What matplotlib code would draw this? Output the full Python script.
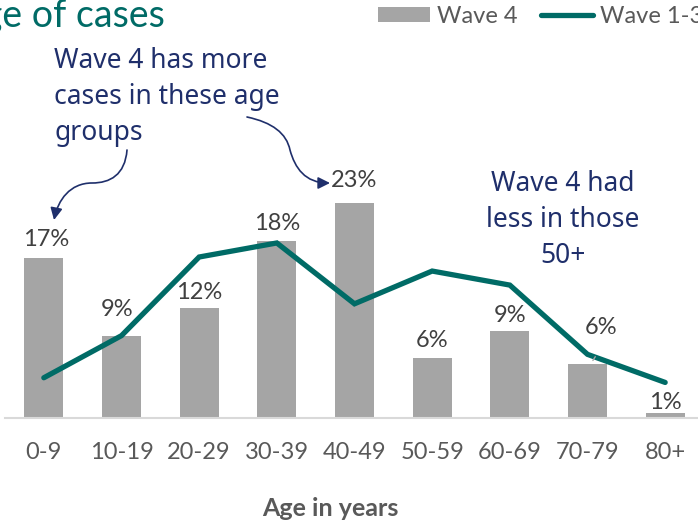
import matplotlib
matplotlib.use("Agg")
from matplotlib import pyplot as plt
from matplotlib.patches import FancyArrowPatch
from matplotlib.path import Path

ages = ["0-9", "10-19", "20-29", "30-39", "40-49", "50-59", "60-69", "70-79", "80+"]
wave4 = [17.1, 8.8, 11.8, 18.9, 23.0, 6.4, 9.3, 5.8, 0.5]
wave4_labels = ["17%", "9%", "12%", "18%", "23%", "6%", "9%", "6%", "1%"]
wave13 = [4.3, 8.8, 17.2, 18.7, 12.2, 15.7, 14.2, 6.8, 3.8]

TEAL = "#006B66"
GREY_BAR = "#A5A5A5"
TXT = "#595959"
NAVY = "#1F2F6B"
W, H = 698, 527

plt.rcParams["font.family"] = ["Lato", "DejaVu Sans"]


def fx(px):
    return px / W


def fy(py):
    return 1 - py / H


fig = plt.figure(figsize=(W / 100, H / 100), dpi=100)
# axes is wider than the picture, the right edge is cut like in the source
ax = fig.add_axes([fx(5), fy(418), 699 / W, 234 / H])

x = list(range(len(ages)))
bars = ax.bar(x, wave4, width=0.5, color=GREY_BAR, label="Wave 4", zorder=2)
line, = ax.plot(x, wave13, color=TEAL, lw=3.8, solid_capstyle="round",
                solid_joinstyle="miter", label="Wave 1-3", zorder=3)

ax.set_xlim(-0.5, 8.5)
ax.set_ylim(0, 25)
ax.set_yticks([])
ax.set_xticks(x)
ax.set_xticklabels(ages, fontsize=17, color=TXT)
ax.tick_params(axis="x", length=0, pad=17)
for s in ["top", "right", "left"]:
    ax.spines[s].set_visible(False)
ax.spines["bottom"].set_color("#D9D9D9")
ax.spines["bottom"].set_linewidth(1.5)

# data labels, offsets in points above the bar top
label_dy = [13, 19, 11, 13, 16, 13, 11, 26, 8]
label_dx = [2, -3, 0, 0, 0, 0, 0, 10, 0]
for i, (v, t) in enumerate(zip(wave4, wave4_labels)):
    ax.annotate(t, (i, v), xytext=(label_dx[i], label_dy[i]), textcoords="offset points",
                ha="center", va="center", fontsize=17, color="#404040", zorder=4)
# leader line for the moved 70-79 label
ax.annotate("", xy=(7.05, wave4[7] + 0.1), xytext=(7.12, wave4[7] + 1.0),
            arrowprops=dict(arrowstyle="-", color="#A5A5A5", lw=1))

fig.text(fx(165), fy(16), "Percentage of cases", ha="right", va="center",
         fontsize=27, color=TEAL)
fig.text(fx(330), fy(508), "Age in years", ha="center", va="center",
         fontsize=18, fontweight="bold", color=TXT)

fig.legend(handles=[bars, line], labels=["Wave 4", "Wave 1-3"], loc="upper left",
           bbox_to_anchor=(fx(378), fy(6)), ncol=2, frameon=False,
           fontsize=17, labelcolor=TXT, handlelength=2.2, handleheight=0.6,
           handletextpad=0.3, columnspacing=1.0, borderaxespad=0, borderpad=0)

hand = dict(color=NAVY, fontsize=19, fontweight="light", linespacing=1.4,
            family=["Noto Sans", "DejaVu Sans"])
fig.text(fx(54), fy(97), "Wave 4 has more\ncases in these age\ngroups", ha="left",
         va="center", **hand)
fig.text(fx(563), fy(220), "Wave 4 had\nless in those\n50+", ha="center",
         va="center", **hand)

# hand drawn arrows, pixel coords
p1 = [(127, 150), (125, 175), (110, 183), (92, 183), (70, 183), (58, 200), (54, 220)]
c1 = [Path.MOVETO, Path.CURVE4, Path.CURVE4, Path.CURVE4, Path.CURVE4, Path.CURVE4, Path.CURVE4]
p2 = [(247, 117), (285, 125), (290, 150), (295, 168), (305, 183), (330, 183)]
c2 = [Path.MOVETO, Path.CURVE3, Path.CURVE3, Path.CURVE4, Path.CURVE4, Path.CURVE4]
for pts, codes in [(p1, c1), (p2, c2)]:
    path = Path([(fx(a), fy(b)) for a, b in pts], codes)
    arr = FancyArrowPatch(path=path, arrowstyle="-|>", mutation_scale=18,
                          color=NAVY, lw=1.2, transform=fig.transFigure)
    fig.add_artist(arr)

fig.savefig("out.png", dpi=100)
